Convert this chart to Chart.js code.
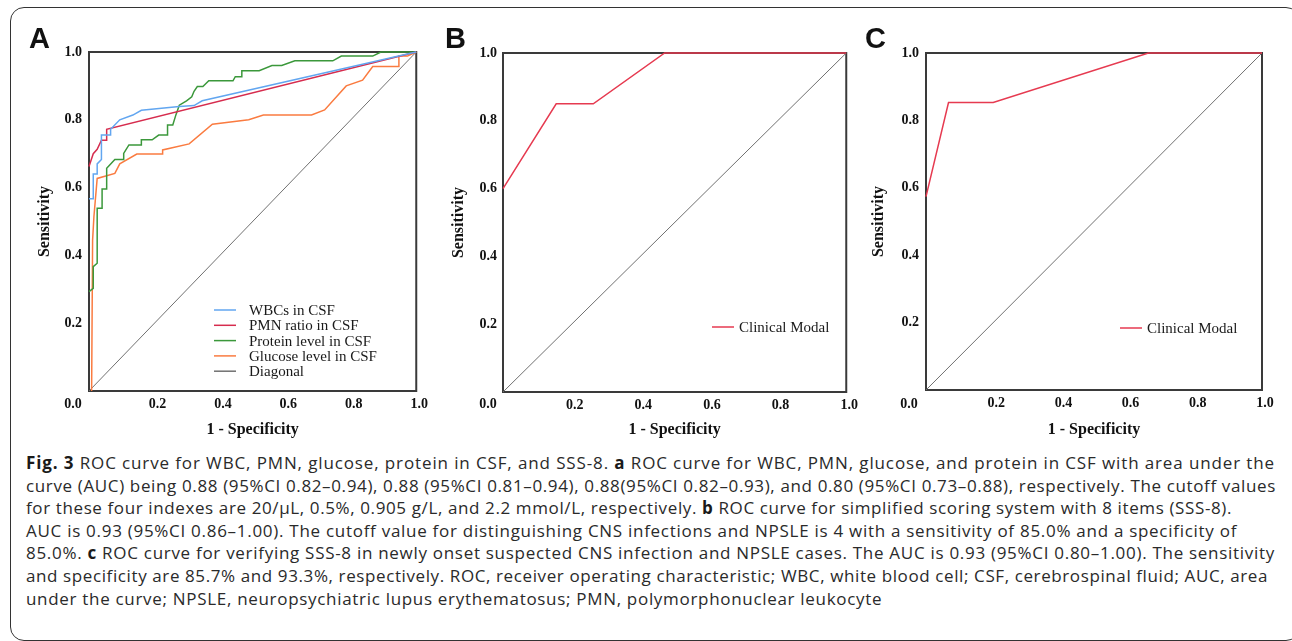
<!DOCTYPE html>
<html>
<head>
<meta charset="utf-8">
<script src="https://cdn.jsdelivr.net/npm/chart.js@4.4.1/dist/chart.umd.min.js"></script>
<style>
  body { margin: 0; background: #fff; width: 1292px; height: 641px; overflow: hidden; position: relative; }
  .frame { position: absolute; left: 10px; top: 7px; width: 1290px; height: 634px; border: 1.5px solid #333; border-radius: 14px; box-sizing: border-box; }
  canvas { position: absolute; top: 0; }
  .caption { position: absolute; left: 26px; top: 452px; font-family: "Open Sans", sans-serif; font-size: 17px; line-height: 22.6px; color: #2a2a2a; white-space: nowrap; }
  .caption div { display: table; }
  .caption b { font-weight: 700; color: #1a1a1a; }
</style>
</head>
<body>
<div class="frame"></div>
<canvas id="panelA" width="430" height="445" style="left:0px;width:430px;height:445px"></canvas>
<canvas id="panelB" width="430" height="445" style="left:430px;width:430px;height:445px"></canvas>
<canvas id="panelC" width="432" height="445" style="left:860px;width:432px;height:445px"></canvas>
<div class="caption" id="caption">
  <div data-end="1275"><b>Fig. 3</b> ROC curve for WBC, PMN, glucose, protein in CSF, and SSS-8. <b>a</b> ROC curve for WBC, PMN, glucose, and protein in CSF with area under the</div>
  <div data-end="1276">curve (AUC) being 0.88 (95%CI 0.82–0.94), 0.88 (95%CI 0.81–0.94), 0.88(95%CI 0.82–0.93), and 0.80 (95%CI 0.73–0.88), respectively. The cutoff values</div>
  <div data-end="1232">for these four indexes are 20/µL, 0.5%, 0.905 g/L, and 2.2 mmol/L, respectively. <b>b</b> ROC curve for simplified scoring system with 8 items (SSS-8).</div>
  <div data-end="1237">AUC is 0.93 (95%CI 0.86–1.00). The cutoff value for distinguishing CNS infections and NPSLE is 4 with a sensitivity of 85.0% and a specificity of</div>
  <div data-end="1275">85.0%. <b>c</b> ROC curve for verifying SSS-8 in newly onset suspected CNS infection and NPSLE cases. The AUC is 0.93 (95%CI 0.80–1.00). The sensitivity</div>
  <div data-end="1268">and specificity are 85.7% and 93.3%, respectively. ROC, receiver operating characteristic; WBC, white blood cell; CSF, cerebrospinal fluid; AUC, area</div>
  <div>under the curve; NPSLE, neuropsychiatric lupus erythematosus; PMN, polymorphonuclear leukocyte</div>
</div>
<script>
// panel A: CSF indexes
const wbcFpr = [0, 0.013, 0.013, 0.025, 0.025, 0.038, 0.038, 0.066, 0.066, 0.094, 0.134, 0.16, 0.276, 0.321, 0.346, 1];
const wbcTpr = [0.567, 0.567, 0.64, 0.64, 0.67, 0.683, 0.755, 0.755, 0.772, 0.80, 0.814, 0.828, 0.839, 0.842, 0.856, 1];

const pmnFpr = [0, 0.013, 0.025, 0.038, 0.054, 0.054, 1];
const pmnTpr = [0.662, 0.70, 0.713, 0.74, 0.74, 0.772, 1];

const proteinFpr = [0, 0.013, 0.013, 0.025, 0.025, 0.04, 0.04, 0.054, 0.054, 0.079, 0.106, 0.106, 0.122, 0.16, 0.16, 0.193, 0.213, 0.24, 0.24, 0.256, 0.266, 0.276, 0.298, 0.314, 0.321, 0.331, 0.348, 0.366, 0.44, 0.447, 0.467, 0.467, 0.52, 0.559, 0.589, 0.629, 0.745, 0.771, 0.867, 0.892, 1];
const proteinTpr = [0.293, 0.303, 0.367, 0.377, 0.539, 0.539, 0.596, 0.596, 0.657, 0.683, 0.683, 0.701, 0.726, 0.726, 0.741, 0.741, 0.755, 0.755, 0.785, 0.785, 0.816, 0.843, 0.856, 0.868, 0.884, 0.898, 0.898, 0.915, 0.915, 0.927, 0.927, 0.945, 0.945, 0.96, 0.96, 0.974, 0.974, 0.988, 0.988, 1, 1];

const glucoseFpr = [0.008, 0.011, 0.015, 0.025, 0.079, 0.094, 0.146, 0.225, 0.225, 0.306, 0.377, 0.488, 0.533, 0.68, 0.72, 0.786, 0.836, 0.867, 0.947, 0.947, 0.973, 1];
const glucoseTpr = [0, 0.445, 0.514, 0.627, 0.642, 0.67, 0.699, 0.699, 0.711, 0.729, 0.787, 0.8, 0.814, 0.814, 0.829, 0.9, 0.917, 0.957, 0.957, 0.988, 0.988, 1];

// panel B and C: SSS-8 clinical model
const modelBFpr = [0, 0.155, 0.263, 0.471, 1];
const modelBTpr = [0.6, 0.85, 0.85, 1, 1];
const modelCFpr = [0, 0.067, 0.2, 0.662, 1];
const modelCTpr = [0.574, 0.853, 0.853, 1, 1];

const diagFpr = [0, 1];
const diagTpr = [0, 1];

const tickLabels = ['0.2', '0.4', '0.6', '0.8', '1.0'];

const serif = '"Liberation Serif", "Times New Roman", serif';
const toPoints = (xs, ys) => xs.map((x, i) => ({ x: x, y: ys[i] }));

function line(label, xs, ys, color, width, inLegend) {
  return {
    label: label,
    data: toPoints(xs, ys),
    showLine: true,
    borderColor: color,
    borderWidth: width,
    pointRadius: 0,
    fill: false,
    clip: 3,
    inLegend: inLegend
  };
}

const decor = {
  id: 'decor',
  beforeDatasetsDraw(chart) {
    const { ctx, chartArea: a } = chart;
    ctx.save();
    ctx.strokeStyle = '#3a3a3a';
    ctx.lineWidth = 2;
    ctx.strokeRect(a.left, a.top, a.right - a.left, a.bottom - a.top);
    ctx.restore();
  },
  afterDraw(chart, args, opts) {
    const ctx = chart.ctx;
    ctx.save();
    ctx.fillStyle = '#111';
    ctx.font = 'bold 29px "Liberation Sans", Arial, sans-serif';
    ctx.textBaseline = 'alphabetic';
    ctx.fillText(opts.letter, opts.letterX, 48);

    ctx.font = 'bold 14px ' + serif;
    ctx.textAlign = 'center';
    ctx.textBaseline = 'middle';
    ctx.fillText('0.0', opts.zeroX, 404);

    ctx.textAlign = 'left';
    ctx.font = '15px ' + serif;
    let y = opts.legendY;
    chart.data.datasets.forEach(ds => {
      if (!ds.inLegend) return;
      ctx.strokeStyle = ds.borderColor;
      ctx.lineWidth = 1.5;
      ctx.beginPath();
      ctx.moveTo(opts.legendX, y);
      ctx.lineTo(opts.legendX + 22, y);
      ctx.stroke();
      ctx.fillStyle = '#1a1a1a';
      ctx.fillText(ds.label, opts.textX, y + 1);
      y += 15.3;
    });
    ctx.restore();
  }
};

function makeChart(id, datasets, box, extra) {
  const tickFont = { family: serif, size: 14, weight: 'bold' };
  const titleFont = { family: serif, size: 16, weight: 'bold' };
  const fmt = v => (Math.abs(v) < 1e-9 ? '' : tickLabels[Math.round(v / 0.2) - 1]);
  return new Chart(document.getElementById(id), {
    type: 'scatter',
    data: { datasets: datasets },
    plugins: [decor],
    options: {
      responsive: false,
      animation: false,
      layout: { padding: { left: box.padLeft, top: box.top, right: box.padRight, bottom: 6 } },
      plugins: {
        legend: { display: false },
        tooltip: { enabled: false },
        decor: extra
      },
      scales: {
        x: {
          type: 'linear', min: 0, max: 1,
          afterFit: s => { s.height = box.xHeight; },
          grid: { display: false, drawTicks: false },
          border: { display: false },
          ticks: { stepSize: 0.2, padding: 5, labelOffset: 3, color: '#111', font: tickFont, callback: fmt, maxRotation: 0, autoSkip: false },
          title: { display: true, text: '1 - Specificity', color: '#111', font: titleFont, padding: 0 }
        },
        y: {
          type: 'linear', min: 0, max: 1,
          afterFit: s => { s.width = box.yWidth; },
          grid: { display: false, drawTicks: false },
          border: { display: false },
          ticks: { stepSize: 0.2, padding: box.tickPad, color: '#111', font: tickFont, callback: fmt, autoSkip: false },
          title: { display: true, text: 'Sensitivity', color: '#111', font: titleFont, padding: 0 }
        }
      }
    }
  });
}

makeChart('panelA', [
  line('WBCs in CSF', wbcFpr, wbcTpr, '#62a6f0', 1.5, true),
  line('PMN ratio in CSF', pmnFpr, pmnTpr, '#d62c4e', 1.5, true),
  line('Protein level in CSF', proteinFpr, proteinTpr, '#3b983b', 1.5, true),
  line('Glucose level in CSF', glucoseFpr, glucoseTpr, '#fa7b40', 1.5, true),
  line('Diagonal', diagFpr, diagTpr, '#707070', 1, true)
], { padLeft: 35, yWidth: 54, top: 52, padRight: 11, xHeight: 48, tickPad: 7 },
   { letter: 'A', letterX: 29, zeroX: 73, legendX: 214, textX: 249, legendY: 310 });

makeChart('panelB', [
  line('Clinical Modal', modelBFpr, modelBTpr, '#e63a50', 1.5, true),
  line('Diagonal', diagFpr, diagTpr, '#707070', 1, false)
], { padLeft: 19, yWidth: 54, top: 53, padRight: 11, xHeight: 47, tickPad: 6 },
   { letter: 'B', letterX: 15, zeroX: 58, legendX: 282, textX: 309, legendY: 327 });

makeChart('panelC', [
  line('Clinical Modal', modelCFpr, modelCTpr, '#e63a50', 1.5, true),
  line('Diagonal', diagFpr, diagTpr, '#707070', 1, false)
], { padLeft: 9, yWidth: 57, top: 53, padRight: 30, xHeight: 49, tickPad: 7 },
   { letter: 'C', letterX: 5, zeroX: 49, legendX: 260, textX: 287, legendY: 328 });

// caption lines: spread each line to where it ends in the original figure
const capLines = Array.from(document.querySelectorAll('#caption div'));
const spacings = [];
capLines.forEach(el => {
  if (!el.dataset.end) return;
  const w = el.getBoundingClientRect().width;
  const s = (Number(el.dataset.end) - 26 - w) / el.textContent.length;
  el.style.letterSpacing = s.toFixed(3) + 'px';
  spacings.push(s);
});
const avgSpacing = spacings.reduce((a, b) => a + b, 0) / spacings.length;
capLines.forEach(el => {
  if (!el.dataset.end) el.style.letterSpacing = avgSpacing.toFixed(3) + 'px';
});
</script>
</body>
</html>
